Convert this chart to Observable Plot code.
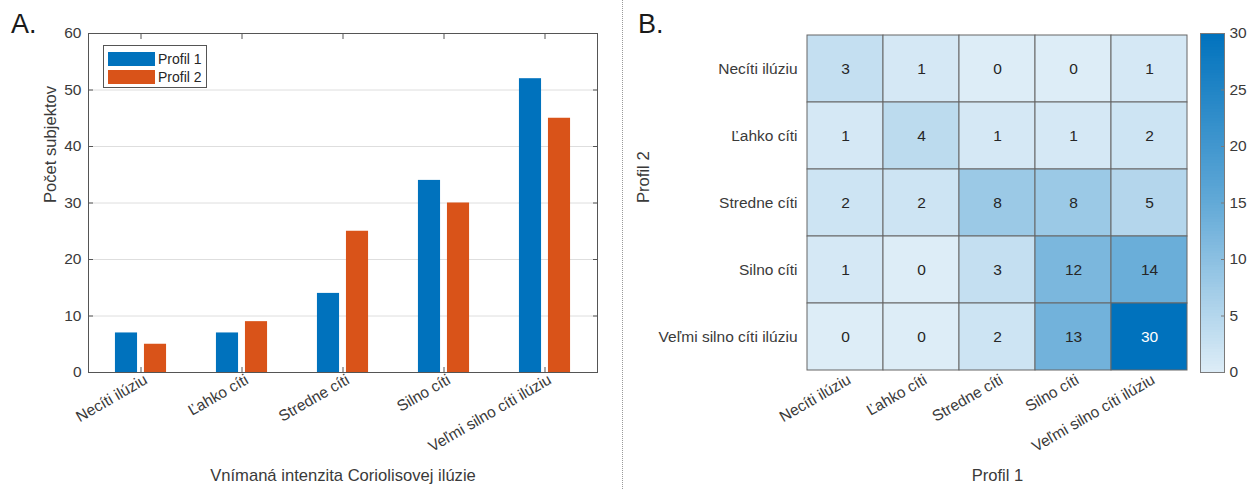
<!DOCTYPE html>
<html>
<head>
<meta charset="utf-8">
<script src="https://cdn.jsdelivr.net/npm/d3@7"></script>
<script src="https://cdn.jsdelivr.net/npm/@observablehq/plot@0.6"></script>
<style>
  body { margin: 0; background: #fff; font-family: "Liberation Sans", Arial, sans-serif; }
  #root { position: relative; width: 1252px; height: 489px; overflow: hidden; background: #fff; }
  .abs { position: absolute; }
  .panel-tag { font-size: 27px; color: #1a1a1a; line-height: 1; }
  .sep { left: 622px; top: 0; width: 0; height: 489px; border-left: 1px dotted #9a9a9a; }
  .legend { background: #fff; border: 1px solid #555; box-sizing: border-box; padding: 4px 0 0 4px; }
  .legend .row { display: flex; align-items: center; height: 18px; font-size: 14px; color: #262626; }
  .legend .sw { width: 47px; height: 14px; margin-right: 3px; }
</style>
</head>
<body>
<div id="root"></div>
<script>
// Perceived intensity categories (shared by both panels)
const categories = ["Necíti ilúziu", "Ľahko cíti", "Stredne cíti", "Silno cíti", "Veľmi silno cíti ilúziu"];
const series = ["Profil 1", "Profil 2"];
const seriesColors = ["#0072BD", "#D95319"];

// Panel A: subject counts per category
const profil1 = [7, 7, 14, 34, 52];
const profil2 = [5, 9, 25, 30, 45];
const countTicks = [0, 10, 20, 30, 40, 50, 60];

// Panel B: cross-tabulation, rows = Profil 2, columns = Profil 1
const crossTab = [
  [3, 1, 0, 0, 1],
  [1, 4, 1, 1, 2],
  [2, 2, 8, 8, 5],
  [1, 0, 3, 12, 14],
  [0, 0, 2, 13, 30]
];
const colorTicks = [0, 5, 10, 15, 20, 25, 30];

const font = `"Liberation Sans", Arial, sans-serif`;
const ink = "#3a3a3a";
const boxInk = "#555";
const tickFont = 15.5;
const titleFont = 16.6;
const root = document.getElementById("root");

function place(node, left, top) {
  node.classList.add("abs");
  node.style.left = left + "px";
  node.style.top = top + "px";
  root.appendChild(node);
  return node;
}

// ---------- Panel A: grouped bars ----------
const A = {width: 622, height: 489, top: 33, right: 25, bottom: 117, left: 88};
const band = (A.width - A.left - A.right) / categories.length;
const barW = band * 0.225, gap = band * 0.06, outer = (band - 2 * barW - gap) / 2;

const bars = categories.flatMap((c, i) => [
  {category: c, series: series[0], value: profil1[i]},
  {category: c, series: series[1], value: profil2[i]}
]);

const chartA = Plot.plot({
  width: A.width, height: A.height,
  marginTop: A.top, marginRight: A.right, marginBottom: A.bottom, marginLeft: A.left,
  style: {fontFamily: font, fontSize: tickFont + "px", color: ink, background: "transparent", overflow: "visible"},
  x: {domain: categories, padding: 0},
  y: {domain: [0, 60]},
  color: {domain: series, range: seriesColors},
  marks: [
    Plot.gridY(countTicks.slice(1, -1), {stroke: "#dedede", strokeOpacity: 1}),
    Plot.barY(bars.filter(d => d.series === series[0]),
      {x: "category", y: "value", fill: "series", insetLeft: outer, insetRight: band - outer - barW}),
    Plot.barY(bars.filter(d => d.series === series[1]),
      {x: "category", y: "value", fill: "series", insetLeft: outer + barW + gap, insetRight: outer}),
    Plot.frame({stroke: boxInk}),
    // inward ticks on all four sides
    Plot.axisY(countTicks, {anchor: "left", tickSize: -5, tickPadding: 12, stroke: boxInk, fontSize: tickFont, label: null}),
    Plot.axisY(countTicks, {anchor: "right", tickSize: -5, stroke: boxInk, tickFormat: () => "", label: null}),
    Plot.axisX({anchor: "bottom", tickSize: -5, stroke: boxInk, tickFormat: () => "", label: null}),
    Plot.axisX({anchor: "top", tickSize: -5, stroke: boxInk, tickFormat: () => "", label: null}),
    // rotated category labels
    Plot.axisX({anchor: "bottom", tickSize: 0, tickPadding: 6, tickRotate: -30, dx: 5, fontSize: tickFont, label: null}),
    // axis titles
    Plot.text(["Vnímaná intenzita Coriolisovej ilúzie"], {frameAnchor: "bottom", lineAnchor: "top", dy: 97, fontSize: titleFont, fill: ink}),
    Plot.text(["Počet subjektov"], {frameAnchor: "left", lineAnchor: "top", rotate: -90, dx: -44, fontSize: titleFont, fill: ink})
  ]
});
place(chartA, 0, 0);

// Legend for panel A
const legend = document.createElement("div");
legend.className = "legend";
legend.style.width = "104px";
legend.style.height = "43px";
series.forEach((s, i) => {
  const row = document.createElement("div");
  row.className = "row";
  const sw = document.createElement("div");
  sw.className = "sw";
  sw.style.background = seriesColors[i];
  const label = document.createElement("span");
  label.textContent = s;
  row.append(sw, label);
  legend.appendChild(row);
});
place(legend, 103, 45);

// ---------- Panel B: heatmap ----------
const cells = crossTab.flatMap((row, i) => row.map((v, j) => ({p1: categories[j], p2: categories[i], value: v})));
const heatColor = {type: "linear", domain: [0, 15, 30], range: ["#ddedf7", "#62a9d7", "#0072bd"], interpolate: "rgb"};

const B = {width: 572, height: 489, top: 33, right: 5, bottom: 117, left: 183};
const chartB = Plot.plot({
  width: B.width, height: B.height,
  marginTop: B.top, marginRight: B.right, marginBottom: B.bottom, marginLeft: B.left,
  style: {fontFamily: font, fontSize: tickFont + "px", color: ink, background: "transparent", overflow: "visible"},
  x: {domain: categories, padding: 0},
  y: {domain: categories, padding: 0},
  color: heatColor,
  marks: [
    Plot.cell(cells, {x: "p1", y: "p2", fill: "value", stroke: "#666", strokeWidth: 1, inset: 0}),
    Plot.text(cells.filter(d => d.value <= 20), {x: "p1", y: "p2", text: d => String(d.value), fill: "#262626", fontSize: 15.5}),
    Plot.text(cells.filter(d => d.value > 20), {x: "p1", y: "p2", text: d => String(d.value), fill: "#ffffff", fontSize: 15.5}),
    Plot.axisY({anchor: "left", tickSize: 0, tickPadding: 8, fontSize: tickFont, label: null}),
    Plot.axisX({anchor: "bottom", tickSize: 0, tickPadding: 6, tickRotate: -30, dx: 4, fontSize: tickFont, label: null}),
    Plot.text(["Profil 1"], {frameAnchor: "bottom", lineAnchor: "top", dy: 97, fontSize: titleFont, fill: ink}),
    Plot.text(["Profil 2"], {frameAnchor: "left", lineAnchor: "top", rotate: -90, dx: -168, fontSize: titleFont, fill: ink})
  ]
});
place(chartB, 622, 0);

// Colorbar for panel B
const step = 0.25;
const ramp = d3.range(0, 30, step);
const chartC = Plot.plot({
  width: 62, height: 489,
  marginTop: 33, marginRight: 28, marginBottom: 117, marginLeft: 10,
  style: {fontFamily: font, fontSize: tickFont + "px", color: ink, background: "transparent", overflow: "visible"},
  y: {domain: [0, 30]},
  color: heatColor,
  marks: [
    Plot.rect(ramp, {y1: d => d, y2: d => d + step, fill: d => d + step / 2, shapeRendering: "crispEdges"}),
    Plot.frame({stroke: "#7a7a7a"}),
    Plot.axisY(colorTicks, {anchor: "right", tickSize: -4, tickPadding: 9, stroke: "#7a7a7a", fontSize: tickFont, label: null})
  ]
});
place(chartC, 1190, 0);

// Separator and panel tags
const sep = document.createElement("div");
sep.className = "sep abs";
root.appendChild(sep);

const tagA = document.createElement("div");
tagA.className = "panel-tag";
tagA.textContent = "A.";
place(tagA, 11, 11);

const tagB = document.createElement("div");
tagB.className = "panel-tag";
tagB.textContent = "B.";
place(tagB, 638, 11);
</script>
</body>
</html>
